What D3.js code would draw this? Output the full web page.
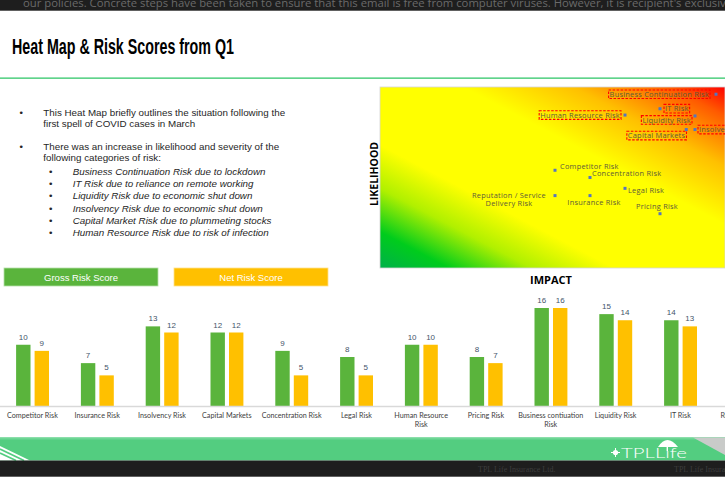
<!DOCTYPE html>
<html><head><meta charset="utf-8">
<script src="https://cdn.jsdelivr.net/npm/d3@7"></script>
<style>body{margin:0;background:#fff;overflow:hidden}svg{display:block}</style>
</head><body><svg id="c" width="725" height="483"></svg>
<script>
// ---------- DATA ----------
const categories = ["Competitor Risk","Insurance Risk","Insolvency Risk","Capital Markets","Concentration Risk","Legal Risk","Human Resource Risk","Pricing Risk","Business contiuation Risk","Liquidity Risk","IT Risk","Reputation Risk"];
const grossScores = [10,7,13,12,9,8,10,8,16,15,14,8];
const netScores   = [9,5,12,12,5,5,10,7,16,14,13,6];
const seriesNames = ["Gross Risk Score","Net Risk Score"];

const heatRisks  = ["Business Continuation Risk","IT Risk","Human Resource Risk","Liquidity Risk","Insolvency Risk","Capital Markets","Competitor Risk","Concentration Risk","Legal Risk","Reputation / Service Delivery Risk","Insurance Risk","Pricing Risk"];
const impact     = [9.6,8,7,9,9,8.75,5,6,7,5,6,8];
const likelihood = [9.6,8.8,8.45,8.4,7.65,7.65,5.4,5.0,4.4,4.0,4.0,3.0];
const flagged    = ["Business Continuation Risk","IT Risk","Human Resource Risk","Liquidity Risk","Insolvency Risk","Capital Markets"];

const bullets = ["This Heat Map briefly outlines the situation following the|first spell of COVID cases in March",
                 "There was an increase in likelihood and severity of the|following categories of risk:"];
const subBullets = ["Business Continuation Risk due to lockdown","IT Risk due to reliance on remote working","Liquidity Risk due to economic shut down","Insolvency Risk due to economic shut down","Capital Market Risk due to plummeting stocks","Human Resource Risk due to risk of infection"];

// label placement (layout only): [anchor, dx, dy]
const labelPlace = [["end",-7,0],["start",5,0],["end",-5,0],["end",-4,4],["start",4,0],["end",-1,6],
                    ["start",5,-4],["start",2,-4],["start",3,2],["middle",-46,0],["middle",4,7],["middle",-3,-7]];

const svg = d3.select("#c");

// ---------- SLIDE CHROME ----------
svg.append("rect").attr("x",0).attr("y",0).attr("width",725).attr("height",10.7).attr("fill","#1e1e1e");
svg.append("text").attr("x",23).attr("y",6.5).attr("font-family","Open Sans").attr("font-size",11.3).attr("fill","#6a6a6a")
  .text("our policies. Concrete steps have been taken to ensure that this email is free from computer viruses. However, it is recipient's exclusive responsibility");
svg.append("text").attr("x",12).attr("y",53.5).attr("font-family","Liberation Sans Narrow, Liberation Sans").attr("font-weight","bold")
  .attr("font-size",22).attr("fill","#000").attr("textLength",222).attr("lengthAdjust","spacingAndGlyphs")
  .text("Heat Map & Risk Scores from Q1");
svg.append("rect").attr("x",0).attr("y",77.4).attr("width",725).attr("height",1.5).attr("fill","#4fcf7f");

// bullets
const bg = svg.append("g").attr("font-family","Liberation Sans, Arial").attr("font-size",9.8).attr("fill","#262626");
const bulletY = [116,150];
bullets.forEach((b,i)=>{
  bg.append("text").attr("x",19.5).attr("y",bulletY[i]).text("•");
  b.split("|").forEach((ln,j)=>bg.append("text").attr("x",43.3).attr("y",bulletY[i]+j*11).text(ln));
});
subBullets.forEach((s,i)=>{
  const y = 175 + i*12.2;
  bg.append("text").attr("x",49).attr("y",y).text("•");
  bg.append("text").attr("x",72.7).attr("y",y).attr("font-style","italic").text(s);
});

// ---------- HEAT MAP ----------
const hm = {x0:380, y0:87, x1:725, y1:268};
const defs = svg.append("defs");
const grad = defs.append("linearGradient").attr("id","heat").attr("x1",0).attr("y1",1).attr("x2",1).attr("y2",0);
[[0,"#00b04a"],[0.1,"#00cc1c"],[0.22,"#b0f000"],[0.34,"#ffff00"],[0.62,"#ffff00"],[0.78,"#ffc000"],[0.92,"#ff5a00"],[1,"#ff0000"]]
  .forEach(s=>grad.append("stop").attr("offset",s[0]).attr("stop-color",s[1]));
svg.append("rect").attr("x",hm.x0).attr("y",hm.y0).attr("width",hm.x1-hm.x0).attr("height",hm.y1-hm.y0)
  .attr("fill","url(#heat)").attr("stroke","#d4d4d4").attr("stroke-width",0.8);

const xI = d3.scaleLinear().domain([0,10]).range([hm.x0, hm.x0+350]);
const yL = d3.scaleLinear().domain([0,10]).range([hm.y1, hm.y0]);

svg.append("text").attr("transform","translate(378,174) rotate(-90)").attr("text-anchor","middle")
  .attr("font-family","Open Sans, Liberation Sans").attr("font-weight","bold").attr("font-size",10.5).attr("fill","#000").text("LIKELIHOOD");
svg.append("text").attr("x",551).attr("y",284).attr("text-anchor","middle")
  .attr("font-family","Open Sans, Liberation Sans").attr("font-weight","bold").attr("font-size",11).attr("fill","#000").text("IMPACT");

const hg = svg.append("g").attr("font-family","Open Sans").attr("font-size",7.4).attr("fill","#5d5b3a");
heatRisks.forEach((name,i)=>{
  const px = xI(impact[i]), py = yL(likelihood[i]);
  hg.append("rect").attr("x",px-1.5).attr("y",py-1.5).attr("width",3).attr("height",3).attr("fill","#5575c0");
  const [anchor,dx,dy] = labelPlace[i];
  let lines = [name];
  if (name.length > 28) { const k = name.lastIndexOf(" ", name.indexOf("Delivery")); lines = [name.slice(0,k), name.slice(k+1)]; }
  const t = hg.append("text").attr("text-anchor",anchor).attr("letter-spacing",0.25);
  lines.forEach((ln,j)=>t.append("tspan").attr("x",px+dx).attr("y",py+dy+2.7+j*8).text(ln));
  if (flagged.includes(name)) {
    const bb = t.node().getBBox();
    hg.insert("rect","text").attr("x",bb.x-1).attr("y",py+dy-4.3).attr("width",bb.width+2).attr("height",8.6)
      .attr("fill","none").attr("stroke","#ff0000").attr("stroke-width",1.1).attr("stroke-dasharray","2.5,1.5");
  }
});

// ---------- BAR CHART ----------
const colors = ["#5ab43c","#ffc000"];
const legendX = [4,174];
seriesNames.forEach((s,i)=>{
  svg.append("rect").attr("x",legendX[i]).attr("y",268).attr("width",154).attr("height",18).attr("fill",colors[i])
    .attr("stroke", i===0?"#b5dfa8":"#ffe08a").attr("stroke-width",0.8);
  svg.append("text").attr("x",legendX[i]+77).attr("y",280.5).attr("text-anchor","middle")
    .attr("font-family","Liberation Sans, Arial").attr("font-size",9.5).attr("fill","#fff").text(s);
});

const xB = d3.scaleBand().domain(categories).range([0,777.6]);
const yB = d3.scaleLinear().domain([0,16]).range([406,308]);
const series = [grossScores, netScores];
const offs = [-16.3, 2.2];
const barG = svg.append("g");
series.forEach((vals,si)=>{
  barG.selectAll(null).data(categories).enter().append("rect")
    .attr("x",d=>xB(d)+xB.bandwidth()/2+offs[si]).attr("width",14.4)
    .attr("y",(d,i)=>yB(vals[i])).attr("height",(d,i)=>yB(0)-yB(vals[i])).attr("fill",colors[si]);
  barG.selectAll(null).data(categories).enter().append("text")
    .attr("x",d=>xB(d)+xB.bandwidth()/2+offs[si]+7.2).attr("y",(d,i)=>yB(vals[i])-5)
    .attr("text-anchor","middle").attr("font-family","Liberation Sans, Arial").attr("font-size",8).attr("fill","#44546a")
    .text((d,i)=>vals[i]);
});
svg.append("line").attr("x1",0).attr("x2",725).attr("y1",406.5).attr("y2",406.5).attr("stroke","#d9d9d9").attr("stroke-width",1.5);

const axis = d3.axisBottom(xB).tickSize(0).tickPadding(0);
const ax = svg.append("g").attr("transform","translate(0,406)").call(axis);
ax.select(".domain").remove();
ax.selectAll("text").attr("font-family","Lato, Open Sans").attr("font-size",7.2).attr("fill","#404040").attr("dy",0).attr("y",12)
  .each(function(d){
    const el = d3.select(this);
    if (d.length > 18) {
      const k = d.lastIndexOf(" ");
      el.text(null);
      el.append("tspan").attr("x",0).attr("y",12).text(d.slice(0,k));
      el.append("tspan").attr("x",0).attr("y",21).text(d.slice(k+1));
    }
  });

// ---------- FOOTER ----------
svg.append("rect").attr("x",0).attr("y",437.5).attr("width",725).attr("height",23).attr("fill","#53cd80");
svg.append("rect").attr("x",0).attr("y",437.5).attr("width",725).attr("height",2).attr("fill","#6fd695");
svg.append("path").attr("d","M0,446 L30,460.5 L0,460.5 Z").attr("fill","#ffffff");
[[0,449,24,460.5],[0,453,16,460.5]].forEach(l=>svg.append("line").attr("x1",l[0]).attr("y1",l[1]).attr("x2",l[2]).attr("y2",l[3]).attr("stroke","#53cd80").attr("stroke-width",1.6));
svg.append("path").attr("d","M693,437.5 L725,437.5 L725,455 Z").attr("fill","#c9cbc9");
// logo
const lg = svg.append("g").attr("fill","#fff");
lg.append("path").attr("d","M658,447 Q667,433 678,447 Z");
lg.append("rect").attr("x",666.6).attr("y",446).attr("width",1.4).attr("height",5);
lg.append("text").attr("x",621).attr("y",457.5).attr("font-family","Lato, Open Sans").attr("font-weight",300).attr("font-size",13.5)
  .attr("textLength",66).attr("lengthAdjust","spacingAndGlyphs").text("TPLLıfe");
lg.append("circle").attr("cx",615.5).attr("cy",452.5).attr("r",2.6);
lg.append("rect").attr("x",611).attr("y",452).attr("width",9).attr("height",1);
lg.append("rect").attr("x",615).attr("y",448).attr("width",1).attr("height",9);
svg.append("rect").attr("x",0).attr("y",460.5).attr("width",725).attr("height",16.2).attr("fill","#1e1e1e");
[478,674].forEach(x=>svg.append("text").attr("x",x).attr("y",472).attr("font-family","Liberation Serif").attr("font-size",8)
  .attr("fill","#3d3d3d").text("TPL Life Insurance Ltd."));
</script></body></html>
